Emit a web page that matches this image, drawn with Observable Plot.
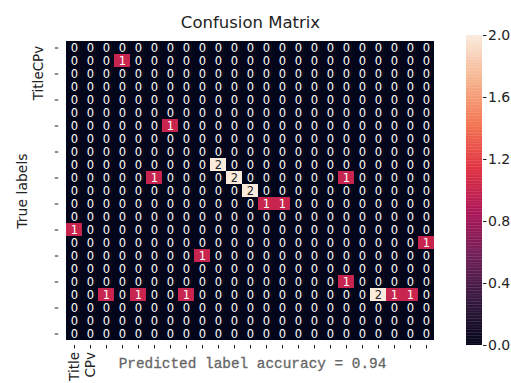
<!DOCTYPE html>
<html>
<head>
<meta charset="utf-8">
<script src="https://cdn.jsdelivr.net/npm/d3@7"></script>
<script src="https://cdn.jsdelivr.net/npm/@observablehq/plot@0.6"></script>
<style>
  html, body { margin: 0; padding: 0; background: #fff; }
  #wrap { position: relative; width: 511px; height: 383px; overflow: hidden; font-family: "DejaVu Sans", sans-serif; }
  #wrap > svg, #wrap > div { position: absolute; top: 0; }
</style>
</head>
<body>
<div id="wrap"></div>
<script>
// ---- data ----
const title = "Confusion Matrix";
const yTitle = "True labels";
const xTitle = "Predicted label accuracy = 0.94";
const nClasses = 23;
const xTickLabels = ["Title", "CPv"];          // shown at columns 0 and 1
const yTickLabels = [{row: 2, label: "TitleCPv"}];
const matrix = [
  [0,0,0,0,0,0,0,0,0,0,0,0,0,0,0,0,0,0,0,0,0,0,0],
  [0,0,0,1,0,0,0,0,0,0,0,0,0,0,0,0,0,0,0,0,0,0,0],
  [0,0,0,0,0,0,0,0,0,0,0,0,0,0,0,0,0,0,0,0,0,0,0],
  [0,0,0,0,0,0,0,0,0,0,0,0,0,0,0,0,0,0,0,0,0,0,0],
  [0,0,0,0,0,0,0,0,0,0,0,0,0,0,0,0,0,0,0,0,0,0,0],
  [0,0,0,0,0,0,0,0,0,0,0,0,0,0,0,0,0,0,0,0,0,0,0],
  [0,0,0,0,0,0,1,0,0,0,0,0,0,0,0,0,0,0,0,0,0,0,0],
  [0,0,0,0,0,0,0,0,0,0,0,0,0,0,0,0,0,0,0,0,0,0,0],
  [0,0,0,0,0,0,0,0,0,0,0,0,0,0,0,0,0,0,0,0,0,0,0],
  [0,0,0,0,0,0,0,0,0,2,0,0,0,0,0,0,0,0,0,0,0,0,0],
  [0,0,0,0,0,1,0,0,0,0,2,0,0,0,0,0,0,1,0,0,0,0,0],
  [0,0,0,0,0,0,0,0,0,0,0,2,0,0,0,0,0,0,0,0,0,0,0],
  [0,0,0,0,0,0,0,0,0,0,0,0,1,1,0,0,0,0,0,0,0,0,0],
  [0,0,0,0,0,0,0,0,0,0,0,0,0,0,0,0,0,0,0,0,0,0,0],
  [1,0,0,0,0,0,0,0,0,0,0,0,0,0,0,0,0,0,0,0,0,0,0],
  [0,0,0,0,0,0,0,0,0,0,0,0,0,0,0,0,0,0,0,0,0,0,1],
  [0,0,0,0,0,0,0,0,1,0,0,0,0,0,0,0,0,0,0,0,0,0,0],
  [0,0,0,0,0,0,0,0,0,0,0,0,0,0,0,0,0,0,0,0,0,0,0],
  [0,0,0,0,0,0,0,0,0,0,0,0,0,0,0,0,0,1,0,0,0,0,0],
  [0,0,1,0,1,0,0,1,0,0,0,0,0,0,0,0,0,0,0,2,1,1,0],
  [0,0,0,0,0,0,0,0,0,0,0,0,0,0,0,0,0,0,0,0,0,0,0],
  [0,0,0,0,0,0,0,0,0,0,0,0,0,0,0,0,0,0,0,0,0,0,0],
  [0,0,0,0,0,0,0,0,0,0,0,0,0,0,0,0,0,0,0,0,0,0,0]
];
const colorbarTicks = [0, 0.4, 0.8, 1.2, 1.6, 2.0];
const colorMax = 2;

// rocket colormap stops (seaborn), positions 0, 1/7 ... 6/7, 1
const rocketStops = ["#03051A","#35193E","#701F57","#AD1759","#E13342","#F37651","#F6B48F","#FAEBDD"];
const rocketPos = [0, 1/7, 2/7, 3/7, 4/7, 5/7, 6/7, 1].map(p => p * colorMax);

const cells = [];
matrix.forEach((row, r) => row.forEach((v, c) => cells.push({r, c, v})));

const colorOpts = {type: "linear", domain: rocketPos, range: rocketStops, interpolate: "rgb"};
const idx = d3.range(nClasses);
const W = 511, H = 383;
const fL = 58.3, fR = 441.7, fT = 36, fB = 345;

const main = Plot.plot({
  width: W, height: H,
  marginLeft: fL, marginRight: W - fR, marginTop: fT, marginBottom: H - fB,
  style: {fontFamily: "DejaVu Sans, sans-serif", fontSize: "13px", color: "#222", background: "transparent", overflow: "visible"},
  x: {type: "band", domain: idx, padding: 0},
  y: {type: "band", domain: idx, padding: 0},
  color: colorOpts,
  marks: [
    Plot.cell(cells, {x: "c", y: "r", fill: "v", inset: 0}),
    Plot.text(cells, {x: "c", y: "r", text: d => String(d.v), fill: d => d.v >= 1.5 ? "#262626" : "#ffffff", fontSize: 11.5, fontFamily: "DejaVu Sans"}),
    Plot.axisX({anchor: "bottom", ticks: idx, tickSize: 3.5, tickPadding: 3, tickRotate: -90, label: null,
      tickFormat: d => xTickLabels[d] ?? "", fontSize: 13.5}),
    Plot.axisY({anchor: "left", ticks: idx.filter(i => i % 2 === 0), tickSize: 3.5, label: null, tickFormat: () => ""}),
    Plot.text(yTickLabels, {y: "row", text: "label", frameAnchor: "left", textAnchor: "middle", rotate: -90, dx: -20, dy: -1, fontSize: 13.5, fill: "#222"}),
    Plot.text([title], {frameAnchor: "top", dy: -20, fontSize: 16.5, fill: "#222"}),
    Plot.text([yTitle], {frameAnchor: "left", textAnchor: "middle", dx: -36, rotate: -90, fontSize: 14, fill: "#222"}),
    Plot.text([xTitle], {frameAnchor: "bottom", dy: 22, dx: 2, fontSize: 14.4, fontFamily: "Liberation Mono, monospace", fill: "#666", stroke: "#666", strokeWidth: 0.3})
  ]
});
document.getElementById("wrap").appendChild(main);

// colorbar
const cbLeft = 462;
const steps = d3.range(0, colorMax, colorMax / 200);
const cb = Plot.plot({
  width: W - cbLeft, height: H,
  marginLeft: 466 - cbLeft, marginRight: W - 482, marginTop: 35, marginBottom: H - 345,
  style: {fontFamily: "DejaVu Sans, sans-serif", fontSize: "14px", color: "#222", background: "transparent", overflow: "visible"},
  y: {domain: [0, colorMax]},
  color: colorOpts,
  marks: [
    Plot.rect(steps, {y1: d => d, y2: d => Math.min(colorMax, d + colorMax / 200 + 0.002), fill: d => d + colorMax / 400}),
    Plot.axisY({anchor: "right", ticks: colorbarTicks, tickSize: 3.5, tickPadding: 2, tickFormat: d3.format(".1f"), label: null})
  ]
});
cb.style.left = cbLeft + "px";
document.getElementById("wrap").appendChild(cb);
</script>
</body>
</html>
